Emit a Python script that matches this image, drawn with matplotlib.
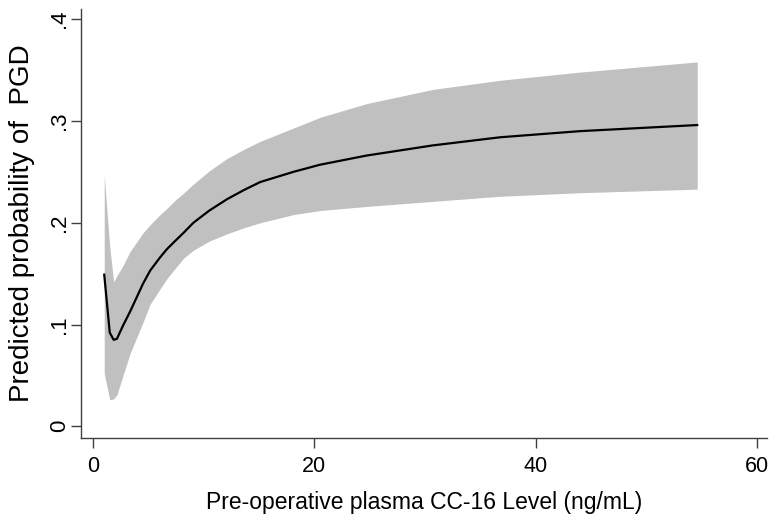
import matplotlib
matplotlib.use("Agg")
import matplotlib.pyplot as plt

# Data
cc16 = [1.0, 1.5, 1.85, 2.15, 2.7, 3.35, 4.5, 5.15, 6.05, 6.66, 7.4, 8.16,
        9.06, 10.5, 12.08, 13.6, 15.1, 18.1, 20.5, 24.7, 30.7, 36.8, 44.0, 54.6]
pred = [0.149, 0.092, 0.085, 0.086, 0.099, 0.113, 0.140, 0.153, 0.166, 0.174,
        0.182, 0.190, 0.200, 0.212, 0.223, 0.232, 0.240, 0.250, 0.257, 0.266,
        0.276, 0.284, 0.290, 0.296]
upper = [0.247, 0.176, 0.142, 0.148, 0.158, 0.172, 0.190, 0.198, 0.208, 0.214,
         0.222, 0.229, 0.238, 0.251, 0.263, 0.272, 0.280, 0.293, 0.3035, 0.317,
         0.331, 0.340, 0.348, 0.358]
lower = [0.052, 0.026, 0.027, 0.031, 0.050, 0.072, 0.102, 0.120, 0.135, 0.145,
         0.155, 0.165, 0.173, 0.182, 0.189, 0.195, 0.200, 0.208, 0.212, 0.216,
         0.221, 0.226, 0.2295, 0.233]

xticks = [0, 20, 40, 60]
yticks = [0, 0.1, 0.2, 0.3, 0.4]
yticklabels = ["0", ".1", ".2", ".3", ".4"]

plt.rcParams["font.family"] = ["Liberation Sans", "DejaVu Sans"]

fig = plt.figure(figsize=(7.7, 5.15), dpi=100)
ax = fig.add_axes([0.1052, 0.1495, 0.8908, 0.833])

ax.fill_between(cc16, lower, upper, color="#c0c0c0", linewidth=0)
ax.plot(cc16, pred, color="black", linewidth=1.6)

ax.set_xlim(-1.1, 60.9)
ax.set_ylim(-0.0115, 0.41)

for s in ["top", "right"]:
    ax.spines[s].set_visible(False)
for s in ["left", "bottom"]:
    ax.spines[s].set_color("#404040")
    ax.spines[s].set_linewidth(1.0)

ax.set_xticks(xticks)
ax.set_xticklabels([str(t) for t in xticks])
ax.set_yticks(yticks)
ax.set_yticklabels(yticklabels, rotation=90, va="center")
ax.tick_params(axis="both", direction="out", length=7, width=1.0,
               color="#404040", labelcolor="black")
ax.tick_params(axis="x", labelsize=15.5, pad=6)
ax.tick_params(axis="y", labelsize=16, pad=1)

ax.set_xlabel("Pre-operative plasma CC-16 Level (ng/mL)", fontsize=16.5, labelpad=10)
ax.set_ylabel("Predicted probability of  PGD", fontsize=20, labelpad=10)

fig.savefig("out.png", dpi=100)
